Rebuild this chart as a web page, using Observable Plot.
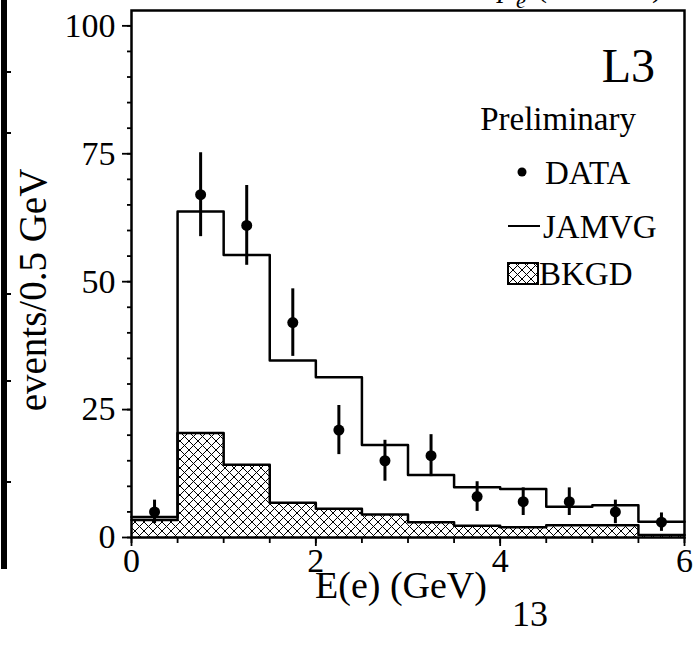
<!DOCTYPE html>
<html><head><meta charset="utf-8">
<script src="https://cdn.jsdelivr.net/npm/d3@7"></script>
<script src="https://cdn.jsdelivr.net/npm/@observablehq/plot@0.6"></script>
<style>
body{margin:0;background:#fff;}
#wrap{position:relative;width:698px;height:645px;overflow:hidden;font-family:"Liberation Serif","Times New Roman",serif;}
</style></head><body><div id="wrap"></div>
<script>
// Histogram bins (left edges, GeV) and bin width
const binEdges = [0, 0.5, 1, 1.5, 2, 2.5, 3, 3.5, 4, 4.5, 5, 5.5];
const binWidth = 0.5;
// JAMVG Monte Carlo prediction (events / 0.5 GeV)
const jamvg = [4.0, 63.7, 55.2, 34.6, 31.3, 18.1, 12.2, 9.8, 9.5, 6.0, 6.3, 3.1];
// Background estimate
const bkgd = [3.4, 20.4, 14.2, 6.8, 5.6, 4.5, 3.0, 2.3, 2.0, 2.4, 2.4, 0.5];
// Data points: bin centres, counts, errors
const dataX = [0.25, 0.75, 1.25, 1.75, 2.25, 2.75, 3.25, 3.75, 4.25, 4.75, 5.25, 5.75];
const dataY = [5, 67, 61, 42, 21, 15, 16, 8, 7, 7, 5, 3];
const dataErr = [2.3, 8.2, 7.8, 6.6, 4.8, 4.0, 4.1, 2.9, 2.7, 2.7, 2.3, 1.8];
// Axis ticks
const yMajorTicks = [0, 25, 50, 75, 100];
const yMinorTicks = [0, 5, 10, 15, 20, 25, 30, 35, 40, 45, 50, 55, 60, 65, 70, 75, 80, 85, 90, 95, 100];
const xMajorTicks = [0, 2, 4, 6];
const xMinorTicks = [0, 0.5, 1, 1.5, 2, 2.5, 3, 3.5, 4, 4.5, 5, 5.5, 6];

const bins = binEdges.map((x, i) => ({x1: x, x2: x + binWidth, jamvg: jamvg[i], bkgd: bkgd[i]}));
const lastEdge = binEdges[binEdges.length - 1] + binWidth;
const stepJ = binEdges.map((x, i) => ({x, y: jamvg[i]})).concat([{x: lastEdge, y: jamvg[jamvg.length - 1]}]);
const stepB = binEdges.map((x, i) => ({x, y: bkgd[i]})).concat([{x: lastEdge, y: bkgd[bkgd.length - 1]}]);
const pts = dataX.map((x, i) => ({x, y: dataY[i], lo: dataY[i] - dataErr[i], hi: dataY[i] + dataErr[i]}));

const FONT = "Liberation Serif, Times New Roman, serif";

const plot = Plot.plot({
  width: 698, height: 645,
  marginLeft: 131, marginRight: 14, marginTop: 10, marginBottom: 108,
  style: {fontFamily: FONT, fontSize: "34px", color: "black", background: "white"},
  x: {domain: [0, 6]},
  y: {domain: [0, 103]},
  marks: [
    Plot.rectY(bins, {x1: "x1", x2: "x2", y: "bkgd", fill: "url(#hatch)"}),
    Plot.line(stepB, {x: "x", y: "y", curve: "step-after", stroke: "black", strokeWidth: 2.5}),
    Plot.line(stepJ, {x: "x", y: "y", curve: "step-after", stroke: "black", strokeWidth: 2.5}),
    Plot.ruleX(pts, {x: "x", y1: "lo", y2: "hi", stroke: "black", strokeWidth: 3}),
    Plot.dot(pts, {x: "x", y: "y", r: 5.5, fill: "black", stroke: "none"}),
    Plot.axisY({ticks: yMinorTicks, tickSize: 4, tickFormat: () => "", strokeWidth: 1.8, label: null}),
    Plot.axisY({ticks: yMajorTicks, tickSize: 9, tickPadding: 7, tickFormat: d => String(d), strokeWidth: 1.8, fontSize: 34, fontFamily: FONT, label: null}),
    Plot.axisX({ticks: xMinorTicks, tickSize: 6, tickFormat: () => "", strokeWidth: 1.8, label: null}),
    Plot.axisX({ticks: xMajorTicks, tickSize: 9, tickPadding: 1, tickFormat: d => String(d), strokeWidth: 1.8, fontSize: 34, fontFamily: FONT, label: null}),
    Plot.frame({stroke: "black", strokeWidth: 2.5})
  ]
});

const svg = d3.select(plot);
svg.insert("defs", ":first-child").html(
  `<pattern id="hatch" patternUnits="userSpaceOnUse" width="9" height="9">
     <rect width="9" height="9" fill="white"/>
     <path d="M0,0L9,9M9,0L0,9M-1,8L1,10M8,-1L10,1M-1,1L1,-1M8,10L10,8" stroke="black" stroke-width="1"/>
   </pattern>`);

const g = svg.append("g").attr("font-family", FONT).attr("fill", "black").attr("text-anchor", "start");
// axis titles
g.append("text").attr("x", 401).attr("y", 598).attr("text-anchor", "middle").attr("font-size", 38).text("E(e) (GeV)");
g.append("text").attr("transform", "translate(46,290) rotate(-90)").attr("text-anchor", "middle").attr("font-size", 39).text("events/0.5 GeV");
g.append("text").attr("x", 530).attr("y", 626).attr("text-anchor", "middle").attr("font-size", 36).text("13");
// clipped heading at top
g.append("text").attr("x", 498).attr("y", -3).attr("font-size", 30).attr("font-style", "italic").text("p");
g.append("text").attr("x", 516).attr("y", 8).attr("font-size", 22).attr("font-style", "italic").text("e");
g.append("text").attr("x", 537).attr("y", -3).attr("font-size", 30).attr("textLength", 125).attr("lengthAdjust", "spacing").text("(GeV/c)");
// legend
g.append("text").attr("x", 655).attr("y", 82).attr("text-anchor", "end").attr("font-size", 48).text("L3");
g.append("text").attr("x", 636).attr("y", 130).attr("text-anchor", "end").attr("font-size", 33).text("Preliminary");
g.append("circle").attr("cx", 522).attr("cy", 172).attr("r", 4.5);
g.append("text").attr("x", 545).attr("y", 184).attr("font-size", 33).text("DATA");
g.append("line").attr("x1", 508).attr("x2", 540).attr("y1", 226).attr("y2", 226).attr("stroke", "black").attr("stroke-width", 2);
g.append("text").attr("x", 543).attr("y", 238).attr("font-size", 33).text("JAMVG");
g.append("rect").attr("x", 508).attr("y", 263).attr("width", 30).attr("height", 21).attr("fill", "url(#hatch)").attr("stroke", "black").attr("stroke-width", 2);
g.append("text").attr("x", 539).attr("y", 285).attr("font-size", 33).text("BKGD");
// left edge bar (neighbouring panel frame)
g.append("rect").attr("x", 1).attr("y", -2).attr("width", 6).attr("height", 571);
[72, 133, 294, 381, 482].forEach(y => g.append("line").attr("x1", 7).attr("x2", 11).attr("y1", y).attr("y2", y).attr("stroke", "black").attr("stroke-width", 2));

document.getElementById("wrap").appendChild(plot);
</script>
</body></html>
